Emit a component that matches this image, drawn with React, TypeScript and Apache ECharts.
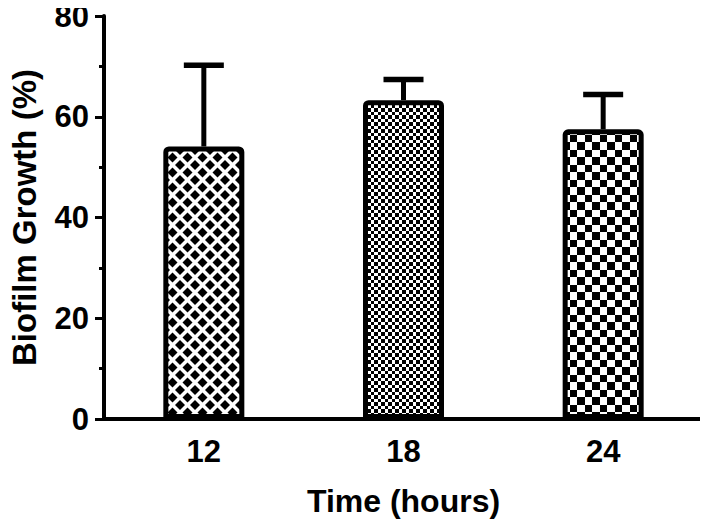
import React, { useEffect, useRef } from "react";
import * as echarts from "echarts";

const categories = ["12", "18", "24"];
const means = [54.1, 63.3, 57.5];
const sds = [16.1, 4.1, 6.9];
const yTicks = { min: 0, max: 80, interval: 20 };

function diamondPattern() {
  const c = document.createElement("canvas");
  c.width = 15;
  c.height = 15;
  const ctx = c.getContext("2d")!;
  ctx.fillStyle = "#fff";
  ctx.fillRect(0, 0, 15, 15);
  ctx.fillStyle = "#000";
  const r = 5;
  const centers = [
    [7.5, 7.5],
    [0, 0],
    [15, 0],
    [0, 15],
    [15, 15],
  ];
  for (const [cx, cy] of centers) {
    ctx.beginPath();
    ctx.moveTo(cx, cy - r);
    ctx.lineTo(cx + r, cy);
    ctx.lineTo(cx, cy + r);
    ctx.lineTo(cx - r, cy);
    ctx.closePath();
    ctx.fill();
  }
  return { image: c, repeat: "repeat", imageWidth: 15, imageHeight: 15 };
}

function checkerPattern(a: number, b: number) {
  const s = a + b;
  const c = document.createElement("canvas");
  c.width = s;
  c.height = s;
  const ctx = c.getContext("2d")!;
  ctx.fillStyle = "#fff";
  ctx.fillRect(0, 0, s, s);
  ctx.fillStyle = "#000";
  ctx.fillRect(0, 0, a, a);
  ctx.fillRect(a, a, b, b);
  return { image: c, repeat: "repeat", imageWidth: s, imageHeight: s };
}

export default function App() {
  const ref = useRef<HTMLDivElement>(null);
  useEffect(() => {
    if (!ref.current) return;
    const chart = echarts.init(ref.current, undefined, { renderer: "svg" });
    const patterns = [diamondPattern(), checkerPattern(3, 4), checkerPattern(7, 8)];
    const font = "'Liberation Sans', Arial, sans-serif";
    chart.setOption({
      animation: false,
      backgroundColor: "#fff",
      grid: { left: 98, right: 5, top: 16, bottom: 106, containLabel: false },
      xAxis: {
        type: "category",
        data: categories,
        name: "Time (hours)",
        nameLocation: "middle",
        nameGap: 66,
        nameTextStyle: { fontFamily: font, fontWeight: "bold", fontSize: 32, color: "#000" },
        axisLine: { lineStyle: { color: "#000", width: 4 } },
        axisTick: { alignWithLabel: true, length: 9, lineStyle: { color: "#000", width: 3 } },
        axisLabel: { margin: 17, fontFamily: font, fontWeight: "bold", fontSize: 31, color: "#000" },
        splitLine: { show: false },
      },
      yAxis: {
        type: "value",
        min: yTicks.min,
        max: yTicks.max,
        interval: yTicks.interval,
        name: "Biofilm Growth (%)",
        nameLocation: "middle",
        nameGap: 63,
        nameTextStyle: { fontFamily: font, fontWeight: "bold", fontSize: 33, color: "#000" },
        axisLine: { show: true, lineStyle: { color: "#000", width: 4 } },
        axisTick: { show: true, length: 9, lineStyle: { color: "#000", width: 3 } },
        minorTick: { show: true, splitNumber: 2, length: 5, lineStyle: { color: "#000", width: 3 } },
        axisLabel: { margin: 15, fontFamily: font, fontWeight: "bold", fontSize: 31, color: "#000" },
        splitLine: { show: false },
      },
      series: [
        {
          type: "bar",
          barWidth: 81,
          data: means.map((v, i) => ({
            value: v,
            itemStyle: { color: patterns[i] },
          })),
          itemStyle: { borderColor: "#000", borderWidth: 5, borderRadius: [3, 3, 0, 0] },
        },
        {
          type: "custom",
          data: means.map((m, i) => [i, m, m + sds[i]]),
          encode: { x: 0, y: 2 },
          renderItem: (_p: any, api: any) => {
            const i = api.value(0);
            const base = api.coord([i, api.value(1)]);
            const top = api.coord([i, api.value(2)]);
            return {
              type: "group",
              children: [
                {
                  type: "line",
                  shape: { x1: base[0], y1: base[1], x2: top[0], y2: top[1] },
                  style: { stroke: "#000", lineWidth: 5 },
                },
                {
                  type: "line",
                  shape: { x1: top[0] - 20, y1: top[1], x2: top[0] + 20, y2: top[1] },
                  style: { stroke: "#000", lineWidth: 5.5 },
                },
              ],
            };
          },
        },
      ],
    });
    return () => chart.dispose();
  }, []);
  return <div ref={ref} style={{ width: 708, height: 525, margin: "-8px 0 0 -8px" }} />;
}
